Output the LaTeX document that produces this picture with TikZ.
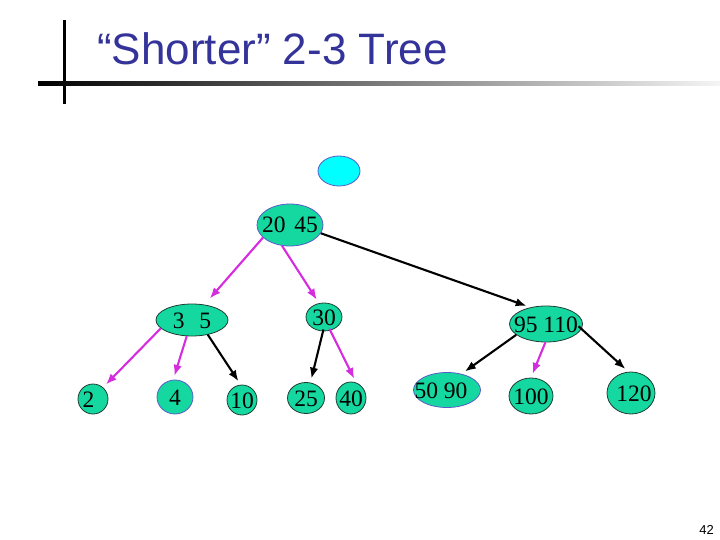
\documentclass[tikz,border=0pt]{standalone}
\usepackage{fontspec}
\setmainfont{Liberation Serif}
\newfontfamily\slidefont{Liberation Sans}
\usepackage{tikz}
\usetikzlibrary{shapes,arrows.meta}

\definecolor{titleblue}{RGB}{51,51,153}
\definecolor{keyfill}{RGB}{20,216,160}
\definecolor{keyrim}{RGB}{30,60,50}
\definecolor{bluerim}{RGB}{90,90,200}
\definecolor{emptyfill}{RGB}{0,255,255}
\definecolor{linkpink}{RGB}{214,44,224}

% keys sit in a box of no size, so the ellipse keeps its own size
\newcommand{\keys}[1]{\raisebox{-8pt}[0pt][0pt]{\makebox[0pt]{#1}}}

\begin{document}
\begin{tikzpicture}[x=1pt, y=-1pt,
    key/.style={ellipse, draw=keyrim, fill=keyfill, line width=0.8pt, inner sep=0pt,
        font=\fontsize{23.5}{26}\selectfont},
    bluekey/.style={key, draw=bluerim},
    pinklink/.style={draw=linkpink, line width=2.1pt, -{Latex[length=11pt,width=8.5pt]}, shorten >=4pt},
    blacklink/.style={pinklink, draw=black}]
\useasboundingbox (0,0) rectangle (720,540);

% Slide heading
\draw[line width=3pt] (64,20) -- (64,104);
\shade[left color=black, right color=gray!8] (38,82) rectangle (720,86);
\node[anchor=base west, inner sep=0pt, text=titleblue,
    font=\slidefont\fontsize{44}{50}\selectfont] (title) at (97,65) {“Shorter” 2-3 Tree};

% Nodes
\node[ellipse, draw=bluerim, fill=emptyfill, line width=0.8pt,
    minimum width=42pt, minimum height=30pt] (empty) at (339,171) {};
\node[bluekey, minimum width=66pt, minimum height=42pt] (n2045) at (290,225) {\keys{20\hspace{9pt}45}};

\node[key, minimum width=72pt, minimum height=32pt] (n35) at (192,320) {\keys{3\hspace{15pt}5}};
\node[key, minimum width=36pt, minimum height=28pt] (n30) at (324,317) {\keys{30}};
\node[key, minimum width=73pt, minimum height=36pt] (n95) at (546,324) {\keys{95 110}};

\node[key, minimum width=30pt, minimum height=30pt] (n2) at (93,399) {\keys{\hspace*{-9pt}2}};
\node[bluekey, minimum width=36pt, minimum height=34pt] (n4) at (175,397) {\keys{4}};
\node[key, minimum width=30pt, minimum height=30pt] (n10) at (242,400) {\keys{10}};
\node[key, minimum width=37pt, minimum height=31pt] (n25) at (306,398) {\keys{25}};
\node[key, minimum width=30pt, minimum height=32pt] (n40) at (351,398) {\keys{40}};
\node[bluekey, minimum width=67pt, minimum height=35pt] (n5090) at (447,390) {\keys{\hspace*{-12pt}50 90}};
\node[key, minimum width=44pt, minimum height=36pt] (n100) at (531,396) {\keys{100}};
\node[key, minimum width=48pt, minimum height=42pt] (n120) at (631,393) {\keys{\hspace*{6pt}120}};

% Links
\draw[pinklink, shorten >=8pt] (n2045.205) -- (n35.51);
\draw[pinklink] (n2045.249) -- (n30.110);
\draw[blacklink] (n2045.345) -- (n95.133);

\draw[pinklink] (n35.195) -- (n2.49);
\draw[pinklink] (n35.252) -- (n4.96);
\draw[blacklink] (n35.317) -- (n10.95);

\draw[blacklink, shorten <=-2pt] (n30.266) -- (n25.74);
\draw[pinklink, shorten <=-2pt] (n30.295) -- (n40.72);

\draw[blacklink] (n95.200) -- (n5090.48);
\draw[pinklink] (n95.268) -- (n100.90);
\draw[blacklink, shorten <=-4pt] (n95.352) -- (n120.97);

% Page number
\node[anchor=base east, inner sep=0pt, font=\slidefont\fontsize{13}{15}\selectfont] (page) at (714,534) {42};
\end{tikzpicture}
\end{document}
